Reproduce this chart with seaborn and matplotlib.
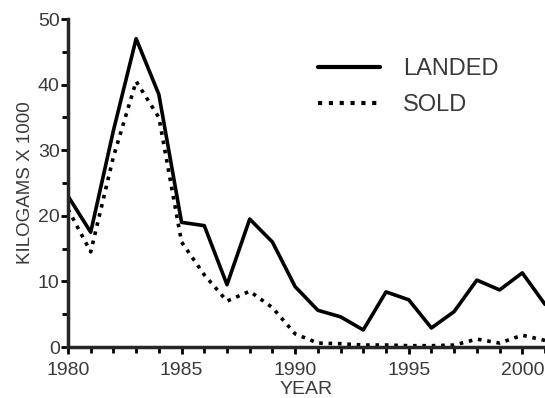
import pandas as pd
import matplotlib.pyplot as plt
import seaborn as sns
from matplotlib.ticker import MultipleLocator

# ========== data ==========
years = list(range(1980, 2002))
landed = [23.0, 17.5, 33.0, 47.0, 38.5, 19.0, 18.5, 9.5, 19.5, 16.0, 9.2,
          5.6, 4.6, 2.6, 8.4, 7.2, 2.9, 5.4, 10.2, 8.7, 11.3, 6.5]
sold = [21.0, 14.5, 29.0, 40.5, 35.0, 16.0, 11.0, 7.0, 8.5, 6.0, 2.0,
        0.6, 0.5, 0.3, 0.3, 0.2, 0.2, 0.3, 1.2, 0.6, 1.8, 1.0]

df = pd.DataFrame({'year': years * 2,
                   'kg': landed + sold,
                   'series': ['LANDED'] * len(years) + ['SOLD'] * len(years)})

sns.set_style('ticks')
plt.rcParams['font.family'] = ['Liberation Sans', 'DejaVu Sans']
txt = '#3a3a3a'

fig = plt.figure(figsize=(5.45, 3.98), dpi=100)
ax = fig.add_axes([68 / 545, 51 / 398, (545 - 68) / 545, (347 - 19) / 398])

sns.lineplot(data=df, x='year', y='kg', style='series', color='black',
             dashes={'LANDED': '', 'SOLD': (1.0, 1.6)}, linewidth=2.6, ax=ax)

ax.set_xlim(1980, 2001)
ax.set_ylim(0, 50)
ax.xaxis.set_major_locator(MultipleLocator(5))
ax.xaxis.set_minor_locator(MultipleLocator(1))
ax.yaxis.set_major_locator(MultipleLocator(10))
ax.yaxis.set_minor_locator(MultipleLocator(5))
ax.tick_params(which='both', width=2, colors='black', labelcolor=txt,
               labelsize=14)
ax.tick_params(axis='y', which='both', pad=1)
ax.tick_params(axis='x', which='both', pad=6)
ax.tick_params(which='major', length=5)
ax.tick_params(which='minor', length=4)
for s in ['left', 'bottom']:
    ax.spines[s].set_linewidth(2.5)
for s in ['top', 'right']:
    ax.spines[s].set_visible(False)

ax.set_xlabel('YEAR', fontsize=14, color=txt, labelpad=1)
ax.set_ylabel('KILOGAMS X 1000', fontsize=13.5, color=txt, labelpad=3)

leg = ax.legend(loc='upper left', bbox_to_anchor=(0.48, 0.945), frameon=False,
                fontsize=17, handlelength=2.6, labelspacing=0.6,
                handletextpad=1.0)
for t in leg.get_texts():
    t.set_color(txt)
for h in leg.get_lines():
    h.set_linewidth(3)

fig.savefig('out.png', dpi=100)
